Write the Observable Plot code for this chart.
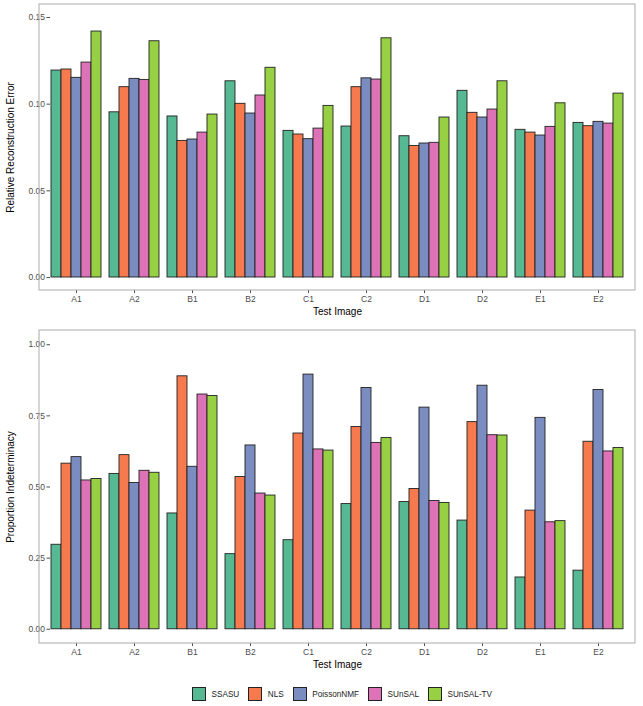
<!DOCTYPE html>
<html><head><meta charset="utf-8">
<script src="https://cdn.jsdelivr.net/npm/d3@7"></script>
<script src="https://cdn.jsdelivr.net/npm/@observablehq/plot@0.6"></script>
<style>
body{margin:0;background:#fff;font-family:"Liberation Sans",Arial,sans-serif;}
#chart svg{display:block;}
#legend{display:flex;align-items:center;margin-top:16px;margin-left:192px;height:14px;font-size:8.2px;color:#1a1a1a;}
.item{display:flex;align-items:center;margin-right:9px;}
.key{width:14px;height:14px;border:1px solid #222;box-sizing:border-box;margin-right:5.5px;}
</style></head><body><div id="chart"></div><div id="legend"></div>
<script>
const categories = ["A1","A2","B1","B2","C1","C2","D1","D2","E1","E2"];
const methods = ["SSASU","NLS","PoissonNMF","SUnSAL","SUnSAL-TV"];
const colors = ["#56b993","#f77a4e","#7b8cc1","#dd72b7","#97d143"];

// Relative reconstruction error
const errSSASU   = [0.1194,0.0953,0.0929,0.1132,0.0846,0.0871,0.0815,0.1077,0.0852,0.0892];
const errNLS     = [0.1200,0.1098,0.0788,0.1002,0.0825,0.1098,0.0759,0.0950,0.0836,0.0873];
const errPoisson = [0.1152,0.1146,0.0796,0.0946,0.0798,0.1149,0.0773,0.0923,0.0819,0.0898];
const errSUnSAL  = [0.1240,0.1140,0.0836,0.1050,0.0859,0.1142,0.0777,0.0969,0.0869,0.0888];
const errTV      = [0.1419,0.1363,0.0940,0.1210,0.0990,0.1380,0.0923,0.1132,0.1005,0.1061];

// Proportion indeterminacy
const propSSASU   = [0.297,0.546,0.407,0.264,0.313,0.440,0.447,0.382,0.182,0.206];
const propNLS     = [0.582,0.612,0.889,0.535,0.688,0.711,0.493,0.728,0.417,0.659];
const propPoisson = [0.605,0.514,0.571,0.646,0.895,0.848,0.779,0.856,0.743,0.841];
const propSUnSAL  = [0.523,0.557,0.825,0.477,0.632,0.655,0.451,0.682,0.376,0.625];
const propTV      = [0.528,0.550,0.820,0.470,0.628,0.672,0.444,0.681,0.380,0.637];

const yTicksTop = [0, 0.05, 0.10, 0.15];
const yTicksBottom = [0, 0.25, 0.50, 0.75, 1.00];

function longTable(series) {
  const rows = [];
  categories.forEach((c, i) => methods.forEach((m, j) => rows.push({cat: c, method: m, value: series[j][i]})));
  return rows;
}

function panel({series, yLabel, yDomain, yTicks, height, marginTop}) {
  const marginLeft = 39, marginRight = 8, marginBottom = 28, width = 643;
  const svg = Plot.plot({
    width, height, marginTop, marginBottom, marginLeft, marginRight,
    style: {fontFamily: "Liberation Sans, Arial, sans-serif", fontSize: "8.5px", color: "#4d4d4d", background: "white", overflow: "visible"},
    fx: {domain: categories, paddingInner: 0.1, paddingOuter: 0.15, axis: "bottom", label: "Test Image", labelAnchor: "center", labelOffset: 24, tickSize: 3, tickPadding: 2},
    x: {domain: methods, padding: 0, axis: null},
    y: {domain: yDomain, ticks: yTicks, tickFormat: ".2f", tickSize: 3.5, tickPadding: 2, label: yLabel, labelAnchor: "center", labelOffset: 44},
    color: {domain: methods, range: colors},
    marks: [
      Plot.barY(longTable(series), {fx: "cat", x: "method", y: "value", fill: "method", stroke: "#222", strokeWidth: 0.9})
    ]
  });
  const s = d3.select(svg);
  s.selectAll('g[aria-label="y-axis label"] text').text(yLabel);
  s.selectAll('g[aria-label="y-axis label"], g[aria-label="fx-axis label"]')
    .attr("fill", "#000").style("font-size", "10px");
  s.selectAll('g[aria-label="y-axis label"] text, g[aria-label="fx-axis label"] text')
    .attr("fill", "#000").style("font-size", "10px");
  s.selectAll('g[aria-label="y-axis tick"], g[aria-label="fx-axis tick"]').attr("stroke", "#333");
  s.append("rect")
    .attr("x", marginLeft).attr("y", marginTop)
    .attr("width", width - marginLeft - marginRight).attr("height", height - marginTop - marginBottom)
    .attr("fill", "none").attr("stroke", "#b3b3b3").attr("stroke-width", 1.1);
  return svg;
}

const chart = document.getElementById("chart");
chart.appendChild(panel({
  series: [errSSASU, errNLS, errPoisson, errSUnSAL, errTV],
  yLabel: "Relative Reconstruction Error", yDomain: [-0.0075, 0.1575], yTicks: yTicksTop,
  height: 318, marginTop: 4
}));
chart.appendChild(panel({
  series: [propSSASU, propNLS, propPoisson, propSUnSAL, propTV],
  yLabel: "Proportion Indeterminacy", yDomain: [-0.05, 1.05], yTicks: yTicksBottom,
  height: 353, marginTop: 12
}));

const legend = d3.select("#legend");
methods.forEach((m, i) => {
  const it = legend.append("div").attr("class", "item");
  it.append("div").attr("class", "key").style("background", colors[i]);
  it.append("span").text(m);
});
</script></body></html>
